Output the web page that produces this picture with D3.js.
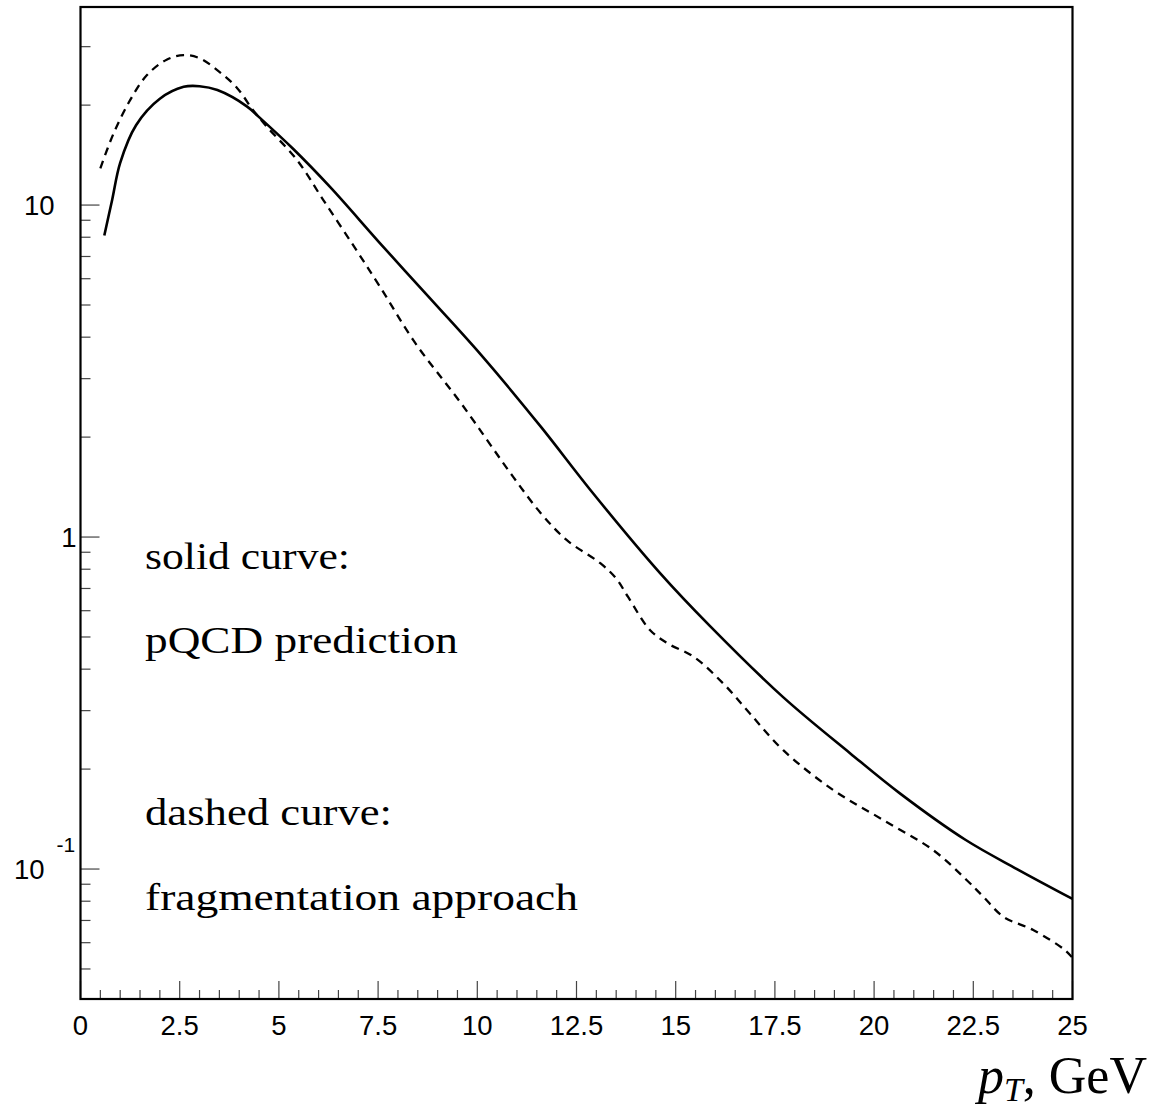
<!DOCTYPE html>
<html><head><meta charset="utf-8">
<script src="https://cdn.jsdelivr.net/npm/d3@7"></script>
<style>body{margin:0;background:#fff}</style>
</head><body>
<svg id="c" width="1154" height="1110"></svg>
<script>
// pT values (GeV) and cross-section values
const solidX = [0.6, 0.8, 1.0, 1.4, 2.0, 2.6, 3.0, 3.45, 4.2, 4.5, 5.35, 6.3, 7.55, 8.85, 10.1, 11.6, 12.85, 14.6, 15.86, 17.7, 19.4, 20.65, 22.3, 23.6, 25.0];
const solidY = [8.1, 10.4, 13.4, 17.4, 20.9, 22.7, 22.8, 22.2, 19.8, 18.4, 14.8, 11.3, 7.67, 5.17, 3.53, 2.15, 1.386, 0.78, 0.54, 0.33, 0.223, 0.169, 0.1225, 0.1, 0.0813];
const dashX = [0.5, 0.83, 1.25, 1.67, 2.17, 2.6, 3.0, 3.5, 3.95, 4.35, 4.7, 5.45, 6.12, 6.9, 7.55, 8.43, 9.6, 10.9, 11.6, 12.25, 13.1, 13.5, 13.8, 14.35, 14.8, 15.45, 16.2, 16.87, 17.71, 18.97, 20.23, 21.49, 22.33, 22.75, 23.26, 24.01, 24.81, 25.0];
const dashY = [12.9, 16.4, 20.7, 24.6, 27.4, 28.3, 27.7, 25.2, 22.5, 19.3, 17.2, 13.7, 10.35, 7.48, 5.67, 3.85, 2.52, 1.52, 1.18, 0.98, 0.834, 0.75, 0.66, 0.525, 0.478, 0.436, 0.362, 0.294, 0.228, 0.173, 0.1405, 0.114, 0.0927, 0.0826, 0.0718, 0.0655, 0.057, 0.054];
const xTicks = [0, 2.5, 5, 7.5, 10, 12.5, 15, 17.5, 20, 22.5, 25];
const xTickLabels = ["0", "2.5", "5", "7.5", "10", "12.5", "15", "17.5", "20", "22.5", "25"];
const yMajor = [0.1, 1, 10];
const legendLines = ["solid curve:", "pQCD prediction", "dashed curve:", "fragmentation approach"];

const svg = d3.select("#c");
const L = 80.5, R = 1072.5, T = 7, B = 999;
const x = d3.scaleLinear().domain([0, 25]).range([L, R]);
const y = d3.scaleLog().domain([0.0406, 39.5]).range([B, T]);

// minor ticks
const yMinor = [];
[0.01, 0.1, 1, 10].forEach(d => { for (let k = 2; k <= 9; k++) { const v = d * k; if (v > 0.0406 && v < 39.5) yMinor.push(v); } });
const xMinor = d3.range(0, 25.01, 0.5).filter(v => Math.abs(v / 2.5 - Math.round(v / 2.5)) > 1e-6);

const tickG = svg.append("g").attr("stroke", "#444").attr("stroke-width", 1.2);
tickG.selectAll(".ym").data(yMinor).join("line")
  .attr("x1", L).attr("x2", L + 10).attr("y1", d => y(d)).attr("y2", d => y(d));
tickG.selectAll(".yM").data(yMajor).join("line")
  .attr("x1", L).attr("x2", L + 19).attr("y1", d => y(d)).attr("y2", d => y(d));
tickG.selectAll(".xm").data(xMinor).join("line")
  .attr("x1", d => x(d)).attr("x2", d => x(d)).attr("y1", B).attr("y2", B - 9);
tickG.selectAll(".xM").data(xTicks).join("line")
  .attr("x1", d => x(d)).attr("x2", d => x(d)).attr("y1", B).attr("y2", B - 18);

// frame
svg.append("rect").attr("x", L).attr("y", T).attr("width", R - L).attr("height", B - T)
  .attr("fill", "none").attr("stroke", "#000").attr("stroke-width", 2.2);

// x tick labels
svg.append("g").selectAll("text").data(xTicks).join("text")
  .attr("x", d => x(d)).attr("y", B + 36).attr("text-anchor", "middle")
  .attr("font-family", "Liberation Sans, Arial, sans-serif").attr("font-size", 27.5)
  .text((d, i) => xTickLabels[i]);

// y tick labels
const lab = svg.append("g").attr("font-family", "Liberation Sans, Arial, sans-serif").attr("font-size", 27.5);
lab.append("text").attr("x", L - 26).attr("y", y(10) + 10).attr("text-anchor", "end").text("10");
lab.append("text").attr("x", L - 4).attr("y", y(1) + 10).attr("text-anchor", "end").text("1");
lab.append("text").attr("x", L - 36).attr("y", y(0.1) + 10).attr("text-anchor", "end").text("10");
lab.append("text").attr("x", L - 24).attr("y", y(0.1) - 17).attr("font-size", 21).text("-1");

// curves
const line = d3.line().x(d => x(d[0])).y(d => y(d[1])).curve(d3.curveCatmullRom.alpha(0.5));
svg.append("path").datum(solidX.map((v, i) => [v, solidY[i]])).attr("d", line)
  .attr("fill", "none").attr("stroke", "#000").attr("stroke-width", 2.6);
svg.append("path").datum(dashX.map((v, i) => [v, dashY[i]])).attr("d", line)
  .attr("fill", "none").attr("stroke", "#000").attr("stroke-width", 2.3).attr("stroke-dasharray", "8,6");

// legend texts
const legY = [569, 653, 825, 910];
const legW = [205, 313, 247, 433];
svg.append("g").selectAll("text").data(legendLines).join("text")
  .attr("x", 145).attr("y", (d, i) => legY[i])
  .attr("font-family", "Liberation Serif, Times New Roman, serif").attr("font-size", 38)
  .attr("textLength", (d, i) => legW[i]).attr("lengthAdjust", "spacingAndGlyphs")
  .text(d => d);

// axis title
const t = svg.append("text").attr("x", 1147).attr("y", 1093).attr("text-anchor", "end")
  .attr("font-family", "Liberation Serif, Times New Roman, serif").attr("font-size", 52);
t.append("tspan").attr("font-style", "italic").text("p");
t.append("tspan").attr("font-style", "italic").attr("font-size", 34).attr("dy", 8).text("T");
t.append("tspan").attr("dy", -8).text(", GeV");
</script>
</body></html>
